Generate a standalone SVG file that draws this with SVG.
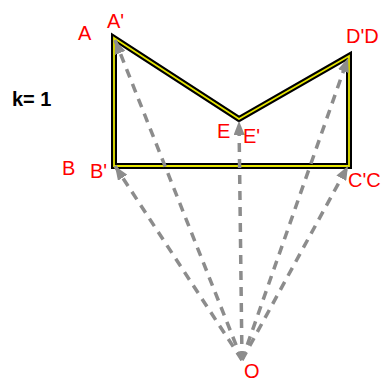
<svg xmlns="http://www.w3.org/2000/svg" width="382" height="383" viewBox="0 0 382 383">
<style>
.lbl{font-family:"Liberation Sans",Arial,sans-serif;font-size:20px;fill:#ff0000}
.k{font-family:"Liberation Sans",Arial,sans-serif;font-size:20px;font-weight:bold;fill:#000}
.ray{stroke:#8c8c8c;stroke-width:3.5;stroke-dasharray:9 7;fill:none;marker-end:url(#ah)}
</style>
<defs>
<marker id="ah" viewBox="0 0 10 8" refX="10" refY="4" markerWidth="4" markerHeight="3.2" orient="auto">
<path d="M0,0 L10,4 L0,8 z" fill="#8c8c8c"/>
</marker>
</defs>
<rect width="382" height="383" fill="#fff"/>
<g id="shape">
<polygon points="114,38 239,119 349,56 349,166 114,166" fill="none" stroke="#000" stroke-width="6" stroke-linejoin="miter"/>
<polygon points="114,38 239,119 349,56 349,166 114,166" fill="none" stroke="#e6e600" stroke-width="1.8" stroke-linejoin="miter"/>
</g>
<g id="connectors">
<line class="ray" x1="242" y1="360" x2="115" y2="40"/>
<line class="ray" x1="242" y1="360" x2="115" y2="166"/>
<line class="ray" x1="242" y1="360" x2="239" y2="121"/>
<line class="ray" x1="242" y1="360" x2="348" y2="58"/>
<line class="ray" x1="242" y1="360" x2="348" y2="166"/>
</g>
<g id="labels">
<text class="k" x="12" y="106">k= 1</text>
<text class="lbl" x="78" y="40">A</text>
<text class="lbl" x="107" y="28">A'</text>
<text class="lbl" x="346" y="43">D'D</text>
<text class="lbl" x="217" y="138">E</text>
<text class="lbl" x="243" y="143">E'</text>
<text class="lbl" x="62" y="175">B</text>
<text class="lbl" x="90" y="178">B'</text>
<text class="lbl" x="348" y="187">C'C</text>
<text class="lbl" x="244" y="378">O</text>
</g>
</svg>
